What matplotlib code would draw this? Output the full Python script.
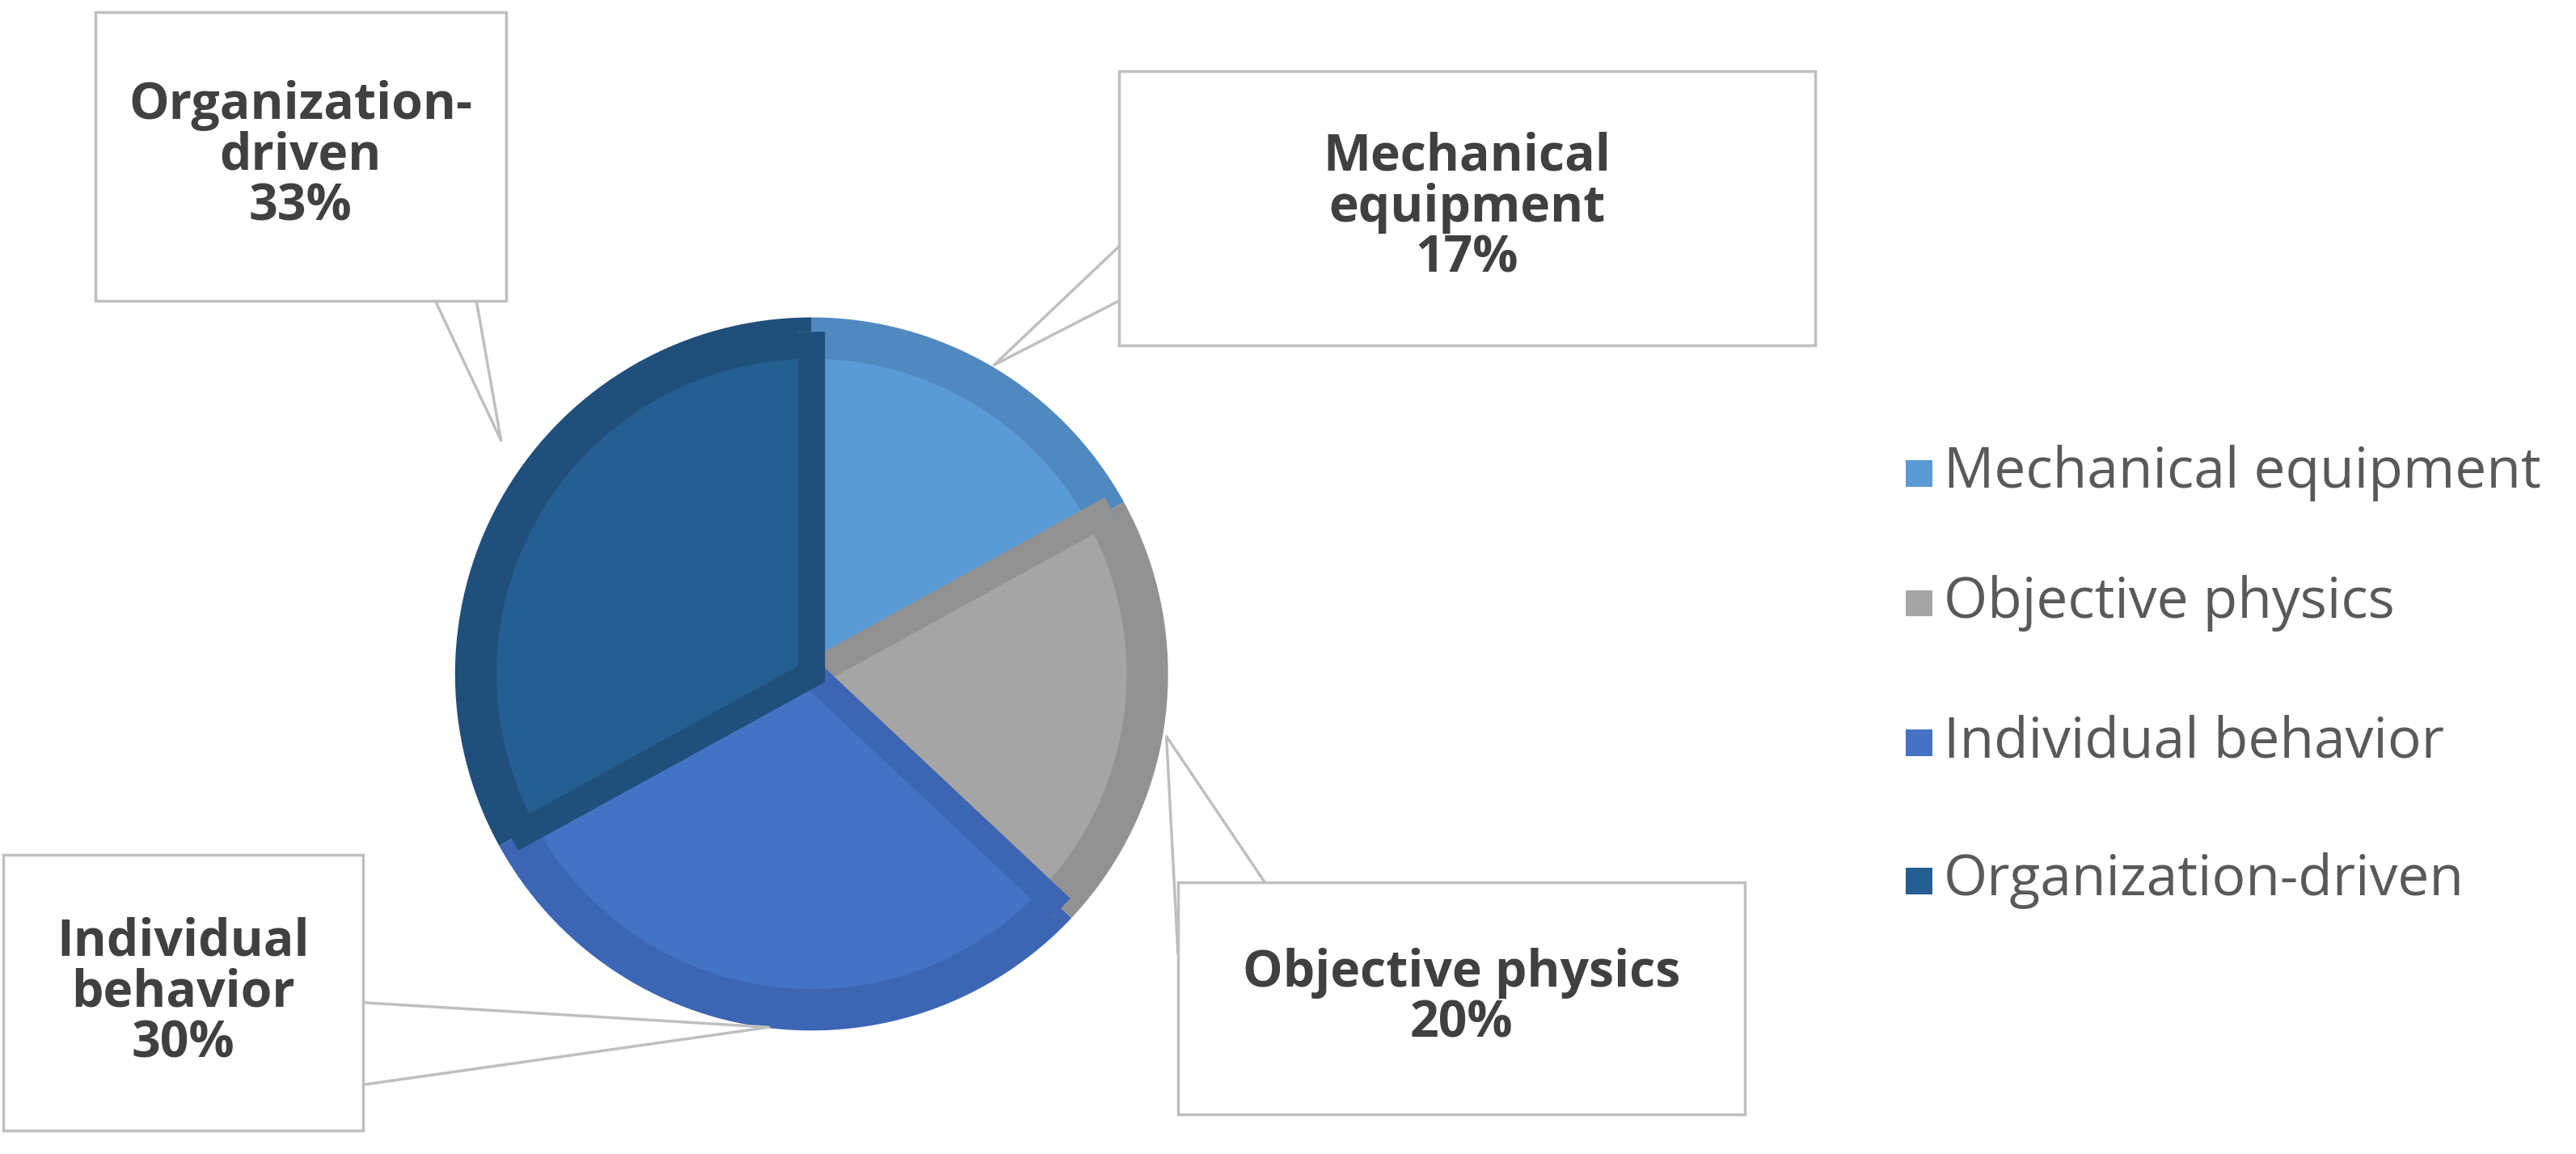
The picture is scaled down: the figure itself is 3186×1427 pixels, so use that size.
import matplotlib
matplotlib.use("Agg")
import matplotlib.pyplot as plt
from matplotlib.patches import Rectangle

categories = ["Mechanical equipment", "Objective physics", "Individual behavior", "Organization-driven"]
values = [17, 20, 30, 33]
labels = ["Mechanical\nequipment\n17%", "Objective physics\n20%", "Individual\nbehavior\n30%", "Organization-\ndriven\n33%"]
light = ["#5B9BD5", "#A5A5A5", "#4472C4", "#255E91"]
dark = ["#5089C0", "#929292", "#3C65B4", "#204F7C"]

plt.rcParams['font.family'] = ['Open Sans', 'DejaVu Sans']
fig = plt.figure(figsize=(31.86, 14.27), dpi=100)
ax = fig.add_axes([0, 0, 1, 1])
W, H = 1568, 702
ax.set_xlim(0, W); ax.set_ylim(H, 0); ax.set_aspect('equal'); ax.axis('off')

cx, cy, r = 494, 410, 217
ax.pie(values, colors=dark, startangle=-90, counterclock=True, center=(cx, cy), radius=r,
       wedgeprops=dict(linewidth=0), frame=True)
inner, _ = ax.pie(values, colors=light, startangle=-90, counterclock=True, center=(cx, cy), radius=r - 17,
                  wedgeprops=dict(linewidth=24, joinstyle='miter'), frame=True)
for w, c in zip(inner, dark):
    w.set_edgecolor(c)
ax.set_xlim(0, W); ax.set_ylim(H, 0); ax.axis('off')

gray = "#BFBFBF"
boxes = [(681, 43, 424, 167), (717, 537, 345, 141), (2, 520, 219, 168), (58, 7, 250, 176)]
leaders = [[(681, 150), (605, 222), (681, 183)],
           [(717, 580), (710, 448), (770, 537)],
           [(221, 610), (468, 625), (221, 660)],
           [(265, 183), (305, 268), (290, 183)]]
for (x, y, w, h), lab, ld in zip(boxes, labels, leaders):
    xs, ys = zip(*ld)
    ax.plot(xs, ys, color=gray, lw=2.5, zorder=5)
    ax.add_patch(Rectangle((x, y), w, h, facecolor='white', edgecolor=gray, lw=2.5, zorder=6))
    ax.text(x + w / 2, y + h / 2, lab, ha='center', va='center', fontsize=45,
            fontweight='bold', color='#404040', linespacing=1.0, zorder=7)

ly = [288, 367, 452, 536]
for c, name, y in zip(light, categories, ly):
    ax.add_patch(Rectangle((1160, y - 8), 16, 16, facecolor=c, edgecolor='none'))
    ax.text(1183, y, name, va='center', ha='left', fontsize=50, color='#595959')

fig.savefig("out.png", dpi=100)
